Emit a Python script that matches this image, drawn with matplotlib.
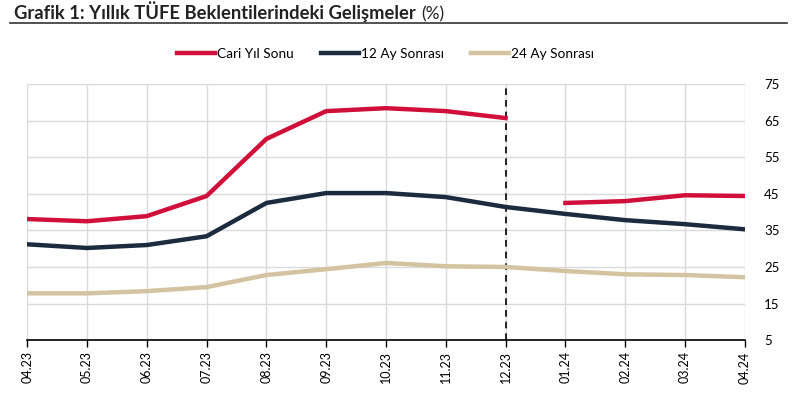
import matplotlib
matplotlib.use('Agg')
import matplotlib.pyplot as plt
import numpy as np

plt.rcParams['font.family'] = ['Lato', 'DejaVu Sans']

months = ["04.23", "05.23", "06.23", "07.23", "08.23", "09.23", "10.23",
          "11.23", "12.23", "01.24", "02.24", "03.24", "04.24"]
cari_yil = [38.1, 37.5, 38.9, 44.4, 60.0, 67.6, 68.4, 67.6, 65.7,
            42.5, 43.0, 44.6, 44.4]
ay12 = [31.2, 30.2, 31.0, 33.4, 42.5, 45.2, 45.2, 44.1, 41.4,
        39.5, 37.8, 36.7, 35.3]
ay24 = [17.8, 17.8, 18.4, 19.5, 22.8, 24.4, 26.1, 25.2, 25.0,
        23.9, 23.0, 22.8, 22.2]
break_idx = 8  # cari yil series resets after 12.23

red = "#D0103A"
navy = "#1C2B3E"
tan = "#D4C3A0"

fig = plt.figure(figsize=(8, 4.04), dpi=100)
ax = fig.add_axes([0.034, 0.158, 0.897, 0.634])

x = np.arange(len(months))
ax.plot(x[:break_idx + 1], cari_yil[:break_idx + 1], color=red, lw=3.2, label="Cari Yıl Sonu")
ax.plot(x[break_idx + 1:], cari_yil[break_idx + 1:], color=red, lw=3.2)
ax.plot(x, ay12, color=navy, lw=3.2, label="12 Ay Sonrası")
ax.plot(x, ay24, color=tan, lw=3.2, label="24 Ay Sonrası")
ax.axvline(break_idx, color="black", lw=1.2, ls=(0, (4, 3)), zorder=1)

ax.set_xlim(0, len(months) - 1)
ax.set_ylim(5, 75)
ax.set_yticks(range(5, 76, 10))
ax.set_xticks(x)
ax.set_xticklabels(months, rotation=90, fontsize=9)
ax.yaxis.tick_right()
ax.tick_params(axis='y', length=0, labelsize=9.5, pad=14)
ax.tick_params(axis='x', length=5, width=1, color="black", pad=3)
ax.grid(True, color="#DADADA", lw=1)
ax.set_axisbelow(True)
for s in ["top", "right", "left"]:
    ax.spines[s].set_visible(False)
ax.spines["bottom"].set_linewidth(1.2)

leg = fig.legend(loc="center", bbox_to_anchor=(0.482, 0.866), ncol=3, frameon=False,
                 fontsize=9.8, handlelength=2.8, handletextpad=0.15, columnspacing=2.0)

title = fig.text(0.018, 0.952, "Grafik 1: Yıllık TÜFE Beklentilerindeki Gelişmeler",
                 fontsize=13.2, fontweight="bold", color="#222222", va="baseline")
r = fig.canvas.get_renderer()
bb = title.get_window_extent(renderer=r)
fig.text((bb.x1 + 5) / fig.bbox.width, 0.952, "(%)", fontsize=12.5,
         color="#222222", va="baseline")
fig.add_artist(plt.Line2D([0.012, 0.984], [0.942, 0.942], color="#333333", lw=1.2,
                          transform=fig.transFigure))

plt.savefig("out.png", dpi=100)
